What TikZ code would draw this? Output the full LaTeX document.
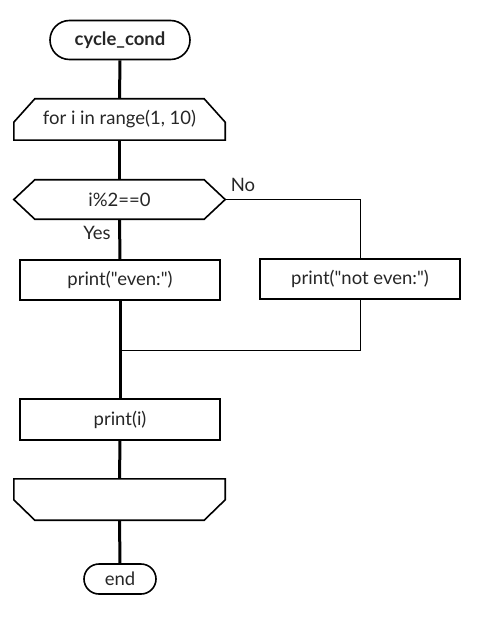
\documentclass[tikz,border=0pt]{standalone}
\usepackage{fontspec}
\setmainfont{Lato}[Ligatures=TeXOff]
\usetikzlibrary{shapes.misc,calc}
\begin{document}
\begin{tikzpicture}[x=1pt,y=-1pt,
  font=\fontsize{18.5}{22}\selectfont,
  every node/.style={text=black!85},
  outl/.style={draw=black,line width=1.6pt},
  box/.style={outl,minimum width=200pt,minimum height=40pt,inner sep=0pt},
  shp/.style={minimum width=211pt,minimum height=41pt,inner sep=0pt},
  term/.style={outl,rounded rectangle,inner sep=0pt},
  flow/.style={line width=3pt},
  branch/.style={line width=1pt}]
\useasboundingbox (0,0) rectangle (480,620);
\node[term,minimum width=140pt,minimum height=39pt,font=\fontsize{18.5}{22}\selectfont\bfseries] (start) at (120,40) {cycle\_cond};
\node[shp] (loop) at (119.5,119.5) {for i in range(1, 10)};
\node[shp,minimum height=39pt] (dec) at (119.5,199.5) {i\%2==0};
\node[box] (even) at (120,280) {print("even:")};
\node[box] (noteven) at (360,279) {print("not even:")};
\node[box,minimum height=41pt] (pi) at (120,419.5) {print(i)};
\node[shp] (lend) at (119.5,499.5) {};
\node[term,minimum width=72pt,minimum height=30pt] (end) at (120,579) {end};
\coordinate (join) at (120,350);
% outlines
\draw[outl] (loop.south west) -- ($(loop.south west)+(0,-18)$) -- ($(loop.north west)+(21,0)$)
  -- ($(loop.north east)+(-21,0)$) -- ($(loop.south east)+(0,-18)$) -- (loop.south east) -- cycle;
\draw[outl] (dec.west) -- ($(dec.north west)+(21,0)$) -- ($(dec.north east)+(-21,0)$) -- (dec.east)
  -- ($(dec.south east)+(-21,0)$) -- ($(dec.south west)+(21,0)$) -- cycle;
\draw[outl] (lend.north west) -- ($(lend.north west)+(0,21)$) -- ($(lend.south west)+(21,0)$)
  -- ($(lend.south east)+(-21,0)$) -- ($(lend.north east)+(0,21)$) -- (lend.north east) -- cycle;
% connectors
\draw[flow] (start.south) -- (loop.north);
\draw[flow] (loop.south) -- (dec.north);
\draw[flow] (dec.south) -- (even.north);
\draw[flow] (even.south) -- (pi.north);
\draw[flow] (pi.south) -- (lend.north);
\draw[flow] (lend.south) -- (end.north);
\draw[branch] (dec.east) -| (noteven.north);
\draw[branch] (noteven.south) |- (join);
% labels
\node (yes) at (97,233) {Yes};
\node (no) at (243,185) {No};
\end{tikzpicture}
\end{document}
